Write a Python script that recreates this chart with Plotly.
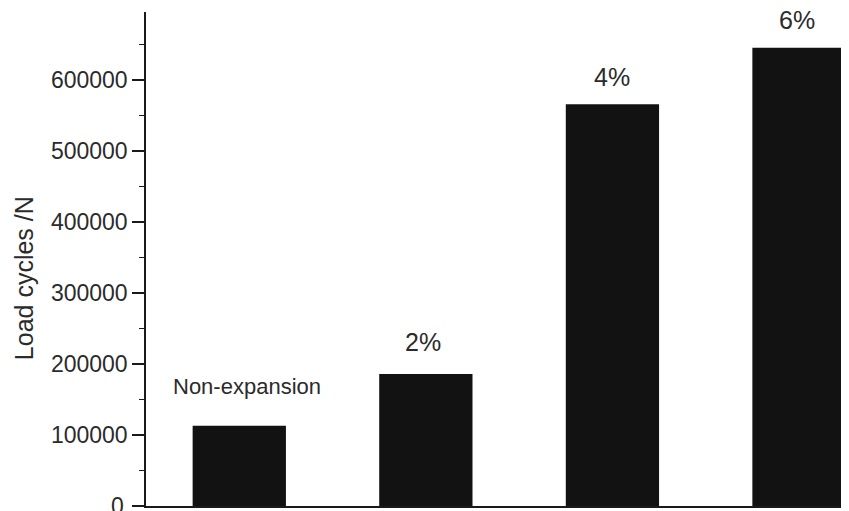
import plotly.graph_objects as go

categories = ["Non-expansion", "2%", "4%", "6%"]
load_cycles = [113000, 186000, 566000, 645500]
label_texts = ["Non-expansion", "2%", "4%", "6%"]
label_x = [0.04, 0.986, 1.996, 2.988]
label_y = [168000, 231400, 604200, 684500]
label_sizes = [22, 25, 25, 25]
y_ticks = [0, 100000, 200000, 300000, 400000, 500000, 600000]
y_ticklabels = ["", "100000", "200000", "300000", "400000", "500000", "600000"]

font_family = "Liberation Sans, Arial, sans-serif"
txt_color = "#2b2b2b"

fig = go.Figure()
fig.add_trace(go.Bar(
    x=list(range(len(categories))),
    y=load_cycles,
    marker=dict(color="#121212", line=dict(width=0)),
    width=0.5,
    showlegend=False,
))

for t, x, y, s in zip(label_texts, label_x, label_y, label_sizes):
    fig.add_annotation(x=x, y=y, text=t, showarrow=False,
                       xanchor="center", yanchor="middle",
                       font=dict(family=font_family, size=s, color=txt_color))

fig.add_annotation(xref="paper", yref="y", x=0, y=321000, xshift=-122,
                   text="Load cycles /N", textangle=-90, showarrow=False,
                   xanchor="center", yanchor="middle",
                   font=dict(family=font_family, size=25, color=txt_color))

# the "0" tick label, partly cut at the bottom edge as in the reference
fig.add_annotation(xref="paper", yref="y", x=0, y=y_ticks[0], xshift=-20,
                   text=str(y_ticks[0]), showarrow=False,
                   xanchor="right", yanchor="middle",
                   font=dict(family=font_family, size=23, color=txt_color))

# page has an 8px body margin, so the figure is offset by 8px
fig.update_layout(
    width=849, height=511,
    margin=dict(l=138, r=8, t=4, b=13, autoexpand=False),
    plot_bgcolor="white", paper_bgcolor="white",
    bargap=0.5,
    font=dict(family=font_family, color=txt_color),
)
fig.update_xaxes(
    range=[-0.5, 3.268], showgrid=False, zeroline=False,
    showline=True, linecolor="#1a1a1a", linewidth=1.5,
    showticklabels=False, ticks="", automargin=False,
)
fig.update_yaxes(
    range=[0, 696000], showgrid=False, zeroline=False, automargin=False,
    showline=True, linecolor="#1a1a1a", linewidth=1.5,
    tickvals=y_ticks, ticktext=y_ticklabels,
    ticks="outside", ticklen=12, tickwidth=1.5, tickcolor="#1a1a1a",
    tickfont=dict(family=font_family, size=23, color=txt_color),
    minor=dict(dtick=50000, tick0=0, ticks="outside", ticklen=5, tickwidth=1.2, tickcolor="#1a1a1a"),
)

fig.write_html("out.html")
